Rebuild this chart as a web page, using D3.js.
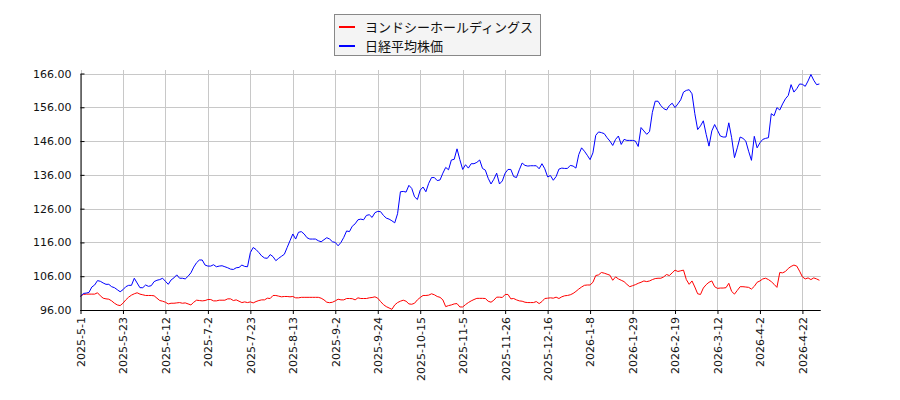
<!DOCTYPE html>
<html><head><meta charset="utf-8">
<script src="https://cdn.jsdelivr.net/npm/d3@7"></script>
<style>body{margin:0;background:#fff}svg{display:block}</style>
</head><body><svg id="c" width="900" height="400"></svg>
<script>
const seriesNames = ["ヨンドシーホールディングス", "日経平均株価"];
const seriesColors = ["#ff0000", "#0000ff"];
const tickLabels = ["2025-5-1","2025-5-23","2025-6-12","2025-7-2","2025-7-23","2025-8-13","2025-9-2","2025-9-24","2025-10-15","2025-11-5","2025-11-26","2025-12-16","2026-1-8","2026-1-29","2026-2-19","2026-3-12","2026-4-2","2026-4-22"];
const tickStep = 15;
const yTicks = [96,106,116,126,136,146,156,166];
const yoshindo = [
100.1,100.6,100.7,100.7,100.7,100.7,101.1,100.2,99.5,99.3,
99.2,98.7,98.0,97.5,97.3,98.0,99.0,99.8,100.4,100.8,
101.1,100.7,100.5,100.3,100.3,100.3,100.2,99.5,98.8,98.6,
98.3,97.8,98.0,98.0,98.1,98.2,98.0,98.1,97.8,97.5,
98.3,98.9,98.8,98.7,98.8,99.1,99.1,98.7,98.7,98.9,
98.9,98.9,99.3,99.3,98.8,99.0,98.6,98.2,98.4,98.2,
98.4,98.1,98.5,98.8,99.0,99.0,99.5,99.4,100.3,100.3,
100.1,99.9,100.0,100.0,99.9,100.0,99.6,99.6,
99.75,99.75,99.75,99.75,99.75,99.75,99.75,99.5,99.0,98.3,
98.16,98.3,98.7,99.2,99.0,99.0,99.4,99.4,99.35,99.0,
99.6,99.4,99.4,99.4,99.6,99.7,99.9,99.5,98.5,97.6,
97.0,96.6,96.2,97.5,98.2,98.6,98.9,98.6,97.8,97.7,
98.0,99.0,99.7,100.3,100.3,100.4,100.8,100.5,100.0,99.75,
99.0,97.0,97.3,97.5,97.8,97.9,96.9,96.9,97.6,98.2,
98.7,99.1,99.45,99.45,99.45,99.4,98.6,98.3,98.9,99.8,
99.8,99.7,100.6,100.6,99.3,99.4,99.0,98.7,
98.6,98.3,98.2,98.2,98.2,98.5,97.9,98.5,99.4,99.5,
99.6,99.5,99.8,99.4,99.9,100.2,100.3,100.5,100.9,101.5,
102.2,102.8,103.3,103.4,103.4,104.2,106.2,106.4,107.1,106.9,
106.6,106.3,104.8,105.8,105.2,104.8,104.4,103.6,102.9,103.2,
103.5,103.9,104.2,104.6,104.4,104.6,105.0,105.3,105.4,105.4,
105.8,106.5,106.2,107.0,107.8,107.4,107.6,107.8,105.0,103.6,
104.6,102.8,100.8,100.6,102.5,103.5,104.2,104.6,102.9,102.4,
102.5,102.5,102.6,103.9,101.5,100.7,101.8,102.9,102.9,102.8,
102.7,102.2,103.0,104.2,104.6,105.2,105.4,105.0,104.4,103.6,
102.7,107.1,107.0,107.4,108.3,108.9,109.3,109.0,107.5,105.8,
105.2,105.5,105.0,105.5,105.2,104.8
];
const nikkei = [
100.0,100.9,101.0,101.2,102.8,103.4,104.7,104.5,104.0,103.6,
103.6,102.9,102.6,102.0,101.4,102.0,102.9,103.3,103.3,105.4,
104.0,102.6,102.6,103.4,103.0,103.2,104.4,104.8,105.0,105.4,
104.5,103.6,104.9,105.5,106.4,105.4,105.4,105.2,106.0,107.0,
108.7,110.0,110.8,110.8,109.3,109.0,109.0,109.4,108.8,109.0,
109.1,108.8,108.5,108.1,108.0,108.5,108.6,109.3,108.9,108.8,
113.0,114.5,113.9,113.0,112.0,111.4,111.3,112.4,111.8,110.6,
111.3,111.9,112.5,114.5,116.5,118.5,117.0,119.0,
119.2,118.5,117.4,117.0,117.0,117.0,116.5,116.2,116.8,117.4,
117.0,116.2,116.0,115.0,116.0,117.5,119.4,119.2,120.8,121.5,
122.7,122.9,122.7,124.0,124.2,123.4,124.8,125.2,125.1,124.0,
123.2,122.9,122.4,121.8,124.5,131.0,131.1,130.9,132.9,132.0,
129.5,128.7,131.5,132.4,131.0,133.5,135.2,135.2,134.3,134.5,
136.5,138.2,137.5,140.4,140.6,143.7,140.5,137.6,139.0,138.0,
139.3,139.3,139.7,140.4,137.9,137.4,135.0,133.3,134.7,136.5,
133.3,134.2,136.5,137.6,137.6,135.5,135.2,137.5,
139.5,138.8,138.6,138.7,138.7,138.7,137.8,139.3,137.8,135.4,
135.8,134.4,135.5,137.7,138.0,137.9,137.9,138.8,138.6,138.0,
142.0,144.0,143.0,141.8,140.5,142.5,147.7,148.7,148.5,148.2,
147.0,146.0,144.7,146.5,147.5,145.0,146.5,146.2,146.2,146.2,
146.0,144.4,150.0,149.0,148.0,148.8,154.5,157.8,157.8,156.5,
155.6,155.2,156.5,157.2,155.9,157.0,158.2,160.5,161.0,161.2,
160.0,154.1,149.4,150.5,152.0,148.0,144.5,149.0,150.9,149.2,
147.5,147.2,147.2,151.4,147.0,141.1,144.0,147.2,146.8,146.0,
143.0,140.3,147.4,144.0,145.5,146.5,146.8,147.0,154.1,153.5,
155.9,155.2,157.0,158.5,159.5,162.7,160.5,161.5,162.9,162.8,
162.2,163.8,165.7,164.0,162.7,162.9
];

(function () {
const svg = d3.select("#c");
const pLeft = 80.5, pBottom = 310, pTop = 73.5, pRightData = 819.4, pRightGrid = 820.7;
const n = nikkei.length;
const x = d3.scaleLinear().domain([0, n - 1]).range([pLeft, pRightData]);
const y = d3.scaleLinear().domain([96, 166]).range([pBottom, pTop]);
const tickIdx = tickLabels.map((d, i) => i * tickStep);
const font = "DejaVu Sans, sans-serif";

const grid = svg.append("g");
grid.selectAll("line.h").data(yTicks).enter().append("line")
  .attr("x1", pLeft).attr("x2", pRightGrid)
  .attr("y1", d => Math.round(y(d)) + 0.5).attr("y2", d => Math.round(y(d)) + 0.5)
  .attr("stroke", "#c8c8c8").attr("stroke-width", 1);
grid.selectAll("line.v").data(tickIdx).enter().append("line")
  .attr("x1", d => Math.round(x(d)) + 0.5).attr("x2", d => Math.round(x(d)) + 0.5)
  .attr("y1", 70).attr("y2", pBottom)
  .attr("stroke", "#c8c8c8").attr("stroke-width", 1);

const line = d3.line().x((d, i) => x(i)).y(d => y(d));
[yoshindo, nikkei].forEach((s, k) => {
  svg.append("path").datum(s).attr("d", line)
    .attr("fill", "none").attr("stroke", seriesColors[k]).attr("stroke-width", 1);
});

const yAxis = d3.axisLeft(y).tickValues(yTicks).tickFormat(d3.format(".2f"))
  .tickSize(-4).tickSizeOuter(0).tickPadding(9);
const gy = svg.append("g").attr("transform", `translate(${pLeft},0)`).call(yAxis);
gy.selectAll("text").attr("font-family", font).attr("font-size", 11).attr("fill", "#111");
gy.selectAll("line").attr("stroke", "#000");
gy.select(".domain").attr("stroke", "#000");

const xAxis = d3.axisBottom(x).tickValues(tickIdx).tickFormat((d, i) => tickLabels[i])
  .tickSize(4).tickSizeOuter(0);
const gx = svg.append("g").attr("transform", `translate(0,${pBottom})`).call(xAxis);
gx.select(".domain").attr("d", `M${pLeft},0.5H${pRightGrid}`).attr("stroke", "#000");
gx.selectAll("line").attr("stroke", "#000");
gx.selectAll("text").attr("font-family", font).attr("font-size", 11).attr("fill", "#111")
  .attr("transform", "rotate(-90)").attr("text-anchor", "end")
  .attr("x", -7).attr("y", 0).attr("dy", "0.35em");

const lg = svg.append("g");
lg.append("rect").attr("x", 334.5).attr("y", 14.5).attr("width", 206).attr("height", 41)
  .attr("fill", "#f4f4f4").attr("stroke", "#888");
seriesNames.forEach((name, k) => {
  const yy = 27 + k * 19;
  lg.append("line").attr("x1", 339).attr("x2", 355).attr("y1", yy).attr("y2", yy)
    .attr("stroke", seriesColors[k]).attr("stroke-width", 2);
  lg.append("text").attr("x", 365).attr("y", yy + 4.5).text(name)
    .attr("font-family", "Noto Sans CJK JP, sans-serif").attr("font-size", 13).attr("fill", "#111");
});
})();
</script></body></html>
